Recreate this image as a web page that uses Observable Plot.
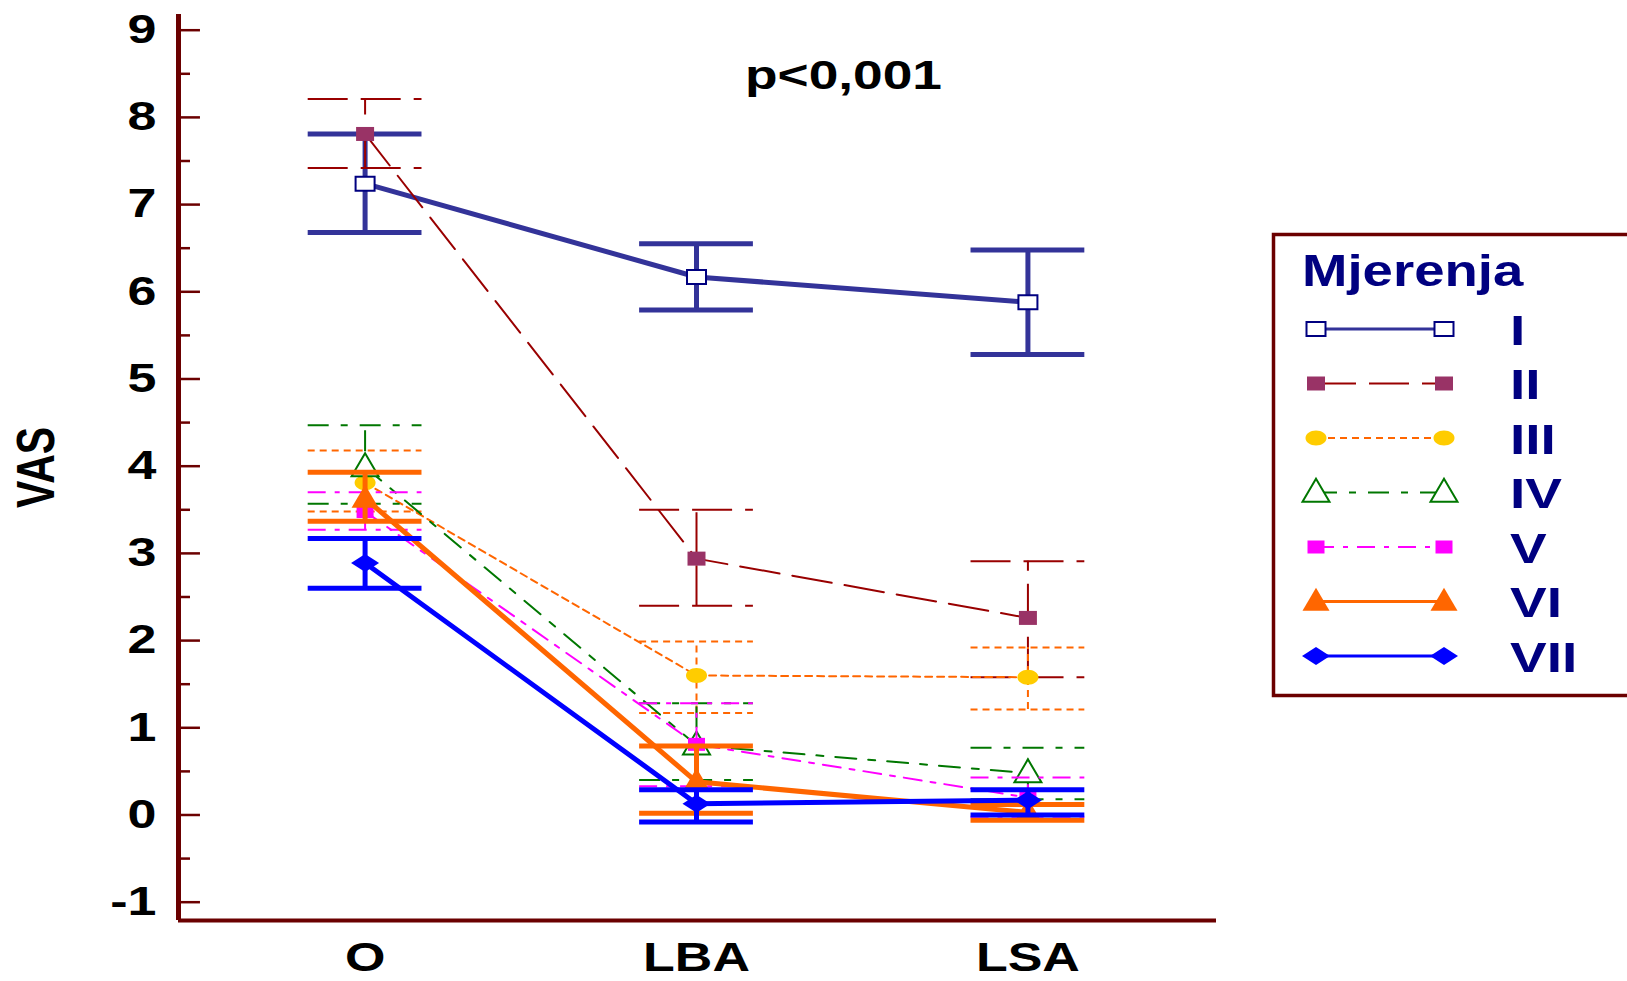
<!DOCTYPE html>
<html><head><meta charset="utf-8">
<script src="https://cdn.jsdelivr.net/npm/d3@7"></script>
<script src="https://cdn.jsdelivr.net/npm/@observablehq/plot@0.6"></script>
<style>
body{margin:0;width:1627px;height:981px;overflow:hidden;background:#fff;position:relative;font-family:"Liberation Sans",Arial,sans-serif;}
#chart{position:absolute;left:0;top:0;}
#legend{position:absolute;left:1272px;top:233px;}
</style></head><body>
<div id="chart"></div><div id="legend"></div>
<script>
// ---- data ----
const categories = ["O", "LBA", "LSA"];
const seriesNames = ["I", "II", "III", "IV", "V", "VI", "VII"];
const yTicks = [-1, 0, 1, 2, 3, 4, 5, 6, 7, 8, 9];
const legendTitle = "Mjerenja";
const pLabel = "p<0,001";
const yLabel = "VAS";

const meanI = [7.24, 6.17, 5.88], lowI = [6.68, 5.79, 5.28], highI = [7.81, 6.55, 6.48];
const meanII = [7.81, 2.94, 2.26], lowII = [7.42, 2.40, 1.58], highII = [8.21, 3.50, 2.91];
const meanIII = [3.81, 1.60, 1.58], lowIII = [3.48, 1.17, 1.21], highIII = [4.18, 1.99, 1.92];
const meanIV = [3.99, 0.80, 0.48], lowIV = [3.57, 0.40, 0.18], highIV = [4.47, 1.28, 0.77];
const meanV = [3.48, 0.81, 0.20], lowV = [3.27, 0.33, -0.02], highV = [3.70, 1.28, 0.43];
const meanVI = [3.63, 0.38, 0.03], lowVI = [3.37, 0.02, -0.06], highVI = [3.93, 0.79, 0.12];
const meanVII = [2.89, 0.13, 0.17], lowVII = [2.60, -0.08, 0.00], highVII = [3.17, 0.29, 0.29];

const means = [meanI, meanII, meanIII, meanIV, meanV, meanVI, meanVII];
const lows = [lowI, lowII, lowIII, lowIV, lowV, lowVI, lowVII];
const highs = [highI, highII, highIII, highIV, highV, highVI, highVII];

// ---- symbols (wide, as in the stretched original) ----
function rectSym(w, h) { return {draw(c) { c.moveTo(-w/2, -h/2); c.lineTo(w/2, -h/2); c.lineTo(w/2, h/2); c.lineTo(-w/2, h/2); c.closePath(); }}; }
function triSym(w, h) { return {draw(c) { c.moveTo(0, -h*0.6); c.lineTo(w/2, h*0.4); c.lineTo(-w/2, h*0.4); c.closePath(); }}; }
function diaSym(w, h) { return {draw(c) { c.moveTo(0, -h/2); c.lineTo(w/2, 0); c.lineTo(0, h/2); c.lineTo(-w/2, 0); c.closePath(); }}; }
function ellSym(w, h) { return {draw(c) { const a = w/2, b = h/2, k = 0.5523;
  c.moveTo(a, 0); c.bezierCurveTo(a, k*b, k*a, b, 0, b); c.bezierCurveTo(-k*a, b, -a, k*b, -a, 0);
  c.bezierCurveTo(-a, -k*b, -k*a, -b, 0, -b); c.bezierCurveTo(k*a, -b, a, -k*b, a, 0); c.closePath(); }}; }

// ---- styles ----
const styles = [
  {line: "#333399", width: 5, dash: null, sym: rectSym(19, 14), fill: "white", stroke: "#000080", sw: 2},
  {line: "#990000", width: 2, dash: "40,13", sym: rectSym(18, 14), fill: "#993366", stroke: "none", sw: 0},
  {line: "#ff6600", width: 2, dash: "7,5", sym: ellSym(21, 15), fill: "#ffcc00", stroke: "none", sw: 0},
  {line: "#007700", width: 2, dash: "21,12,7,12", sym: triSym(27, 23), fill: "white", stroke: "#007700", sw: 2},
  {line: "#ff00ff", width: 2, dash: "18,9,5,9", sym: rectSym(17, 13), fill: "#ff00ff", stroke: "none", sw: 0},
  {line: "#ff6600", width: 5, dash: null, sym: triSym(27, 23), fill: "#ff6600", stroke: "none", sw: 0},
  {line: "#0000ff", width: 5, dash: null, sym: diaSym(28, 18), fill: "#0000ff", stroke: "none", sw: 0}
];

const axisColor = "#6b0000";
const xMin = -0.563, xMax = 2.569, yMin = -1.21, yMax = 9.18;
const pxPerX = 332;
const capHalf = 57 / pxPerX;

const marks = [];
// axis lines & ticks
marks.push(Plot.ruleY([yMin], {x1: xMin, x2: xMax, stroke: axisColor, strokeWidth: 4}));
marks.push(Plot.ruleY(yTicks, {x1: xMin, x2: xMin + 22 / pxPerX, stroke: axisColor, strokeWidth: 2.5}));
marks.push(Plot.ruleY(yTicks.slice(0, -1).map(d => d + 0.5), {x1: xMin, x2: xMin + 12 / pxPerX, stroke: axisColor, strokeWidth: 2.5}));
marks.push(Plot.ruleX([xMin], {y1: yMin, y2: yMax, stroke: axisColor, strokeWidth: 5}));

seriesNames.forEach((name, s) => {
  const st = styles[s];
  const rows = categories.map((c, i) => ({series: name, xi: i, mean: means[s][i], lo: lows[s][i], hi: highs[s][i]}));
  const common = {stroke: st.line, strokeWidth: st.width, strokeDasharray: st.dash || undefined};
  marks.push(Plot.ruleX(rows, {x: "xi", y1: "lo", y2: "hi", ...common}));
  marks.push(Plot.ruleY(rows, {y: "hi", x1: d => d.xi - capHalf, x2: d => d.xi + capHalf, ...common}));
  marks.push(Plot.ruleY(rows, {y: "lo", x1: d => d.xi - capHalf, x2: d => d.xi + capHalf, ...common}));
  marks.push(Plot.line(rows, {x: "xi", y: "mean", ...common}));
  marks.push(Plot.dot(rows, {x: "xi", y: "mean", r: 6, symbol: st.sym, fill: st.fill, stroke: st.stroke, strokeWidth: st.sw}));
});

marks.push(Plot.axisY({ticks: yTicks, tickFormat: d => String(d), tickSize: 0, tickPadding: 22, fontSize: 40, fontWeight: "bold", label: null}));
marks.push(Plot.axisX({ticks: [0, 1, 2], tickFormat: i => categories[i], tickSize: 0, tickPadding: 22, fontSize: 40, fontWeight: "bold", label: null}));
marks.push(Plot.text([yLabel], {text: d => d, frameAnchor: "left", textAnchor: "middle", lineAnchor: "middle", dx: -142, rotate: -90, fontSize: 41, fontWeight: "bold", fill: "black"}));
marks.push(Plot.text([pLabel], {text: d => d, frameAnchor: "top", lineAnchor: "middle", dx: 146, dy: 61, fontSize: 41, fontWeight: "bold", fill: "black"}));

const svg = Plot.plot({
  width: 1250, height: 981,
  marginLeft: 178, marginRight: 34, marginTop: 14, marginBottom: 61,
  x: {type: "linear", domain: [xMin, xMax]},
  y: {type: "linear", domain: [yMin, yMax]},
  style: {fontFamily: "'Liberation Sans', Arial, sans-serif", background: "white", overflow: "visible", color: "black"},
  marks
});
document.getElementById("chart").appendChild(svg);

// widen text like the original's horizontal stretch
d3.select(svg).selectAll("text").each(function() {
  const t = this.getAttribute("transform");
  if (t) this.setAttribute("transform", t + (t.includes("rotate") ? " scale(1,1.3)" : " scale(1.3,1)"));
});

// ---- legend ----
const L = d3.create("svg").attr("width", 355).attr("height", 466).style("overflow", "visible")
  .style("font-family", "'Liberation Sans', Arial, sans-serif");
L.append("rect").attr("x", 1.5).attr("y", 1.5).attr("width", 400).attr("height", 461)
  .attr("fill", "white").attr("stroke", axisColor).attr("stroke-width", 3.5);
L.append("text").attr("transform", "translate(30,53) scale(1.24,1)").attr("font-size", 44)
  .attr("font-weight", "bold").attr("fill", "#000080").text(legendTitle);
const rowY0 = 96, rowStep = 54.5, x1 = 44, x2 = 172;
seriesNames.forEach((name, s) => {
  const st = styles[s];
  const y = rowY0 + s * rowStep;
  L.append("line").attr("x1", x1).attr("x2", x2).attr("y1", y).attr("y2", y)
    .attr("stroke", st.line).attr("stroke-width", st.width > 2 ? 3 : 2)
    .attr("stroke-dasharray", st.dash);
  [x1, x2].forEach(x => {
    const p = d3.path(); st.sym.draw(p);
    L.append("path").attr("d", p.toString()).attr("transform", `translate(${x},${y})`)
      .attr("fill", st.fill).attr("stroke", st.stroke).attr("stroke-width", st.sw);
  });
  L.append("text").attr("transform", `translate(238,${y + 15.5}) scale(1.28,1)`).attr("font-size", 43)
    .attr("font-weight", "bold").attr("fill", "#000080").text(name);
});
document.getElementById("legend").appendChild(L.node());
</script>
</body></html>
